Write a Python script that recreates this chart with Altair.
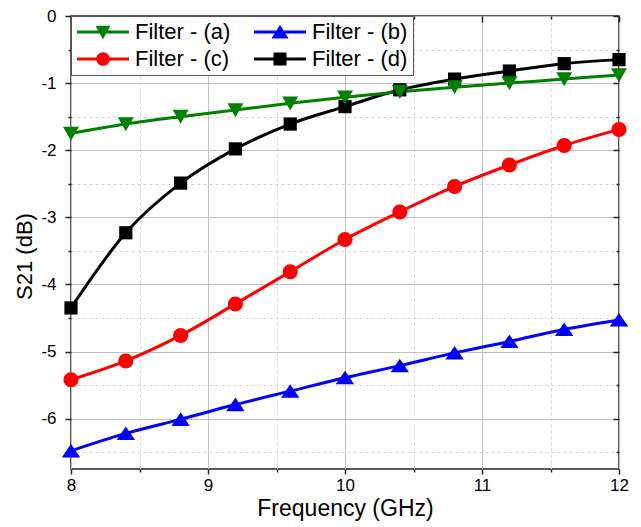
import altair as alt
import pandas as pd

# ---- data ----
freq = [8.0, 8.4, 8.8, 9.2, 9.6, 10.0, 10.4, 10.8, 11.2, 11.6, 12.0]
filter_a = [-1.75, -1.61, -1.50, -1.40, -1.30, -1.21, -1.13, -1.06, -1.00, -0.94, -0.88]
filter_b = [-6.48, -6.22, -6.01, -5.79, -5.59, -5.39, -5.21, -5.02, -4.85, -4.67, -4.53]
filter_c = [-5.42, -5.14, -4.76, -4.29, -3.81, -3.33, -2.92, -2.54, -2.22, -1.93, -1.69]
filter_d = [-4.35, -3.23, -2.49, -1.98, -1.61, -1.35, -1.10, -0.94, -0.82, -0.71, -0.65]

series_names = ["Filter - (a)", "Filter - (b)", "Filter - (c)", "Filter - (d)"]
series_colors = ["#008000", "#0000ff", "#ff0000", "#000000"]
# legend is filled column by column: (a),(c) | (b),(d)
legend_order = ["Filter - (a)", "Filter - (c)", "Filter - (b)", "Filter - (d)"]
legend_colors = ["#008000", "#ff0000", "#0000ff", "#000000"]

x_major = [8, 9, 10, 11, 12]
x_minor = [8.5, 9.5, 10.5, 11.5]
y_major = [0, -1, -2, -3, -4, -5, -6]
y_minor = [-0.5, -1.5, -2.5, -3.5, -4.5, -5.5, -6.5]
x_domain = [8, 12]
y_domain = [-6.75, 0]

# marker shapes (normalized paths)
marker_paths = [
    "M-0.8,-0.68L0.8,-0.68L0,0.72Z",            # triangle down
    "M0,-0.7L0.92,0.66L-0.92,0.66Z",            # triangle up
    "M-0.75,0A0.75,0.75 0 1,1 0.75,0A0.75,0.75 0 1,1 -0.75,0Z",  # circle
    "M-0.66,-0.66H0.66V0.66H-0.66Z",            # square
]
# legend symbols: line segment with marker in the middle (symbol size 400 -> unit = 10 px)
LINE = "M-1,-0.15H4.2V0.15H-1Z "
legend_path_map = {
    "Filter - (a)": LINE + "M0.85,-0.62L2.35,-0.62L1.6,0.72Z",
    "Filter - (b)": LINE + "M1.6,-0.72L2.45,0.66L0.75,0.66Z",
    "Filter - (c)": LINE + "M0.92,0A0.68,0.68 0 1,1 2.28,0A0.68,0.68 0 1,1 0.92,0Z",
    "Filter - (d)": LINE + "M0.95,-0.65H2.25V0.65H0.95Z",
}
legend_paths = [legend_path_map[n] for n in legend_order]

# drawing order: (d), (b), (c), then (a) on top
draw_order = ["Filter - (d)", "Filter - (b)", "Filter - (c)", "Filter - (a)"]
values_by_name = dict(zip(series_names, [filter_a, filter_b, filter_c, filter_d]))
rows = []
for name in draw_order:
    for f, v in zip(freq, values_by_name[name]):
        rows.append({"series": name, "freq": f, "s21": v})
df = pd.DataFrame(rows)

FONT = "Liberation Sans"
TICK_COLOR = "#222222"

xs = alt.Scale(domain=x_domain, nice=False, zero=False)
ys = alt.Scale(domain=y_domain, nice=False, zero=False)
color_scale = alt.Scale(domain=series_names, range=series_colors)

# ---- minor grid / minor ticks (bottom, left) ----
minor = alt.Chart(df).mark_point(opacity=0).encode(
    x=alt.X("freq:Q", scale=xs, axis=alt.Axis(
        orient="bottom", values=x_minor, labels=False, title=None, domain=False,
        tickSize=3, tickColor=TICK_COLOR, tickWidth=1.5,
        grid=True, gridDash=[3, 3], gridColor="#d6d6d6", gridWidth=1)),
    y=alt.Y("s21:Q", scale=ys, axis=alt.Axis(
        orient="left", values=y_minor, labels=False, title=None, domain=False,
        tickSize=3, tickColor=TICK_COLOR, tickWidth=1.5,
        grid=True, gridDash=[3, 3], gridColor="#d6d6d6", gridWidth=1)),
).transform_filter("false")

main_x_axis = alt.Axis(
    orient="bottom", values=x_major, title="Frequency (GHz)", domain=False,
    titleFont=FONT, titleFontSize=23, titleFontWeight="normal", titleColor="black",
    titlePadding=4,
    labelFont=FONT, labelFontSize=17, labelColor="black", labelPadding=3, labelFlush=False,
    tickSize=5, tickColor=TICK_COLOR, tickWidth=1.5,
    grid=True, gridColor="#c0c0c0", gridWidth=1)
main_y_axis = alt.Axis(
    orient="left", values=y_major, title="S21 (dB)", domain=False,
    titleFont=FONT, titleFontSize=22, titleFontWeight="normal", titleColor="black",
    titlePadding=4, titleY=240,
    labelFont=FONT, labelFontSize=17, labelColor="black", labelPadding=9, labelFlush=False,
    labelExpr="'' + datum.value",
    tickSize=6, tickColor=TICK_COLOR, tickWidth=1.5,
    grid=True, gridColor="#c0c0c0", gridWidth=1)

lines = alt.Chart(df).mark_line(strokeWidth=3, interpolate="monotone").encode(
    x=alt.X("freq:Q", scale=xs, axis=main_x_axis),
    y=alt.Y("s21:Q", scale=ys, axis=main_y_axis),
    color=alt.Color("series:N", scale=color_scale, legend=None),
    detail="series:N",
)
points = alt.Chart(df).mark_point(filled=True, size=400, opacity=1).encode(
    x=alt.X("freq:Q", scale=xs, axis=main_x_axis),
    y=alt.Y("s21:Q", scale=ys, axis=main_y_axis),
    color=alt.Color("series:N", scale=color_scale, legend=None),
    shape=alt.Shape("series:N", scale=alt.Scale(domain=series_names, range=marker_paths), legend=None),
)
main = alt.layer(lines, points)

# ---- inward mirrored ticks (top, right) ----
def mirror(values_x, values_y, size):
    return alt.Chart(df).mark_point(opacity=0).encode(
        x=alt.X("freq:Q", scale=xs, axis=alt.Axis(
            orient="top", values=values_x, labels=False, title=None, domain=False,
            grid=False, tickSize=size, offset=-size, tickColor=TICK_COLOR, tickWidth=1.5)),
        y=alt.Y("s21:Q", scale=ys, axis=alt.Axis(
            orient="right", values=values_y, labels=False, title=None, domain=False,
            grid=False, tickSize=size, offset=-size, tickColor=TICK_COLOR, tickWidth=1.5)),
    ).transform_filter("false")

top_major = mirror(x_major, y_major, 6)
top_minor = mirror(x_minor, y_minor, 3)

# ---- legend ----
leg = alt.Legend(
    title=None, orient="none", legendX=0, legendY=0, columns=2,
    symbolSize=400, symbolOpacity=1, symbolStrokeWidth=0,
    labelFont=FONT, labelFontSize=22, labelColor="black", labelOffset=37,
    columnPadding=22, rowPadding=5, padding=5,
    strokeColor="#555555", fillColor="white")
legend_layer = alt.Chart(df).mark_point(filled=True, size=400, opacity=1).encode(
    color=alt.Color("series:N", scale=alt.Scale(domain=legend_order, range=legend_colors), legend=leg),
    shape=alt.Shape("series:N", scale=alt.Scale(domain=legend_order, range=legend_paths), legend=leg),
).transform_filter("false")

chart = alt.layer(minor, main, top_major, top_minor, legend_layer).resolve_scale(
    x="independent", y="independent", color="independent", shape="independent"
).properties(
    width=548, height=453,
    padding={"left": 71, "top": 16, "right": 22, "bottom": 58},
    autosize="none", background="white",
).configure_view(stroke="#222222", strokeWidth=1.5)

chart.save("out.html", embed_options={"renderer": "svg", "actions": False})
